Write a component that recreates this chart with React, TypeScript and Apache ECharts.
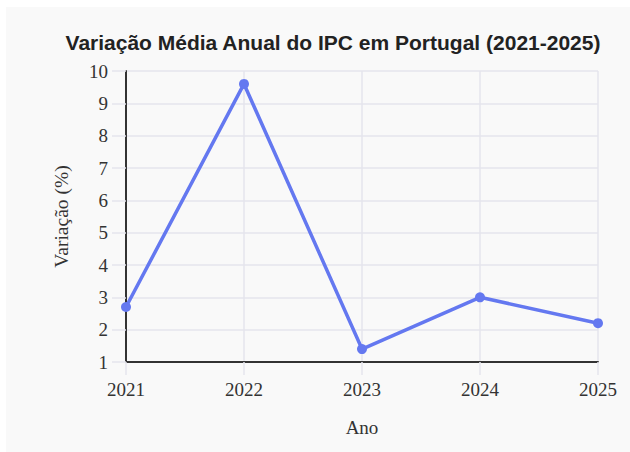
import React, { useEffect, useRef } from "react";
import * as echarts from "echarts";

const years = ["2021", "2022", "2023", "2024", "2025"];
const ipc = [2.7, 9.6, 1.4, 3.0, 2.2];
const titleText = "Variação Média Anual do IPC em Portugal (2021-2025)";

export default function App() {
  const ref = useRef<HTMLDivElement>(null);
  useEffect(() => {
    if (!ref.current) return;
    const chart = echarts.init(ref.current, undefined, { renderer: "svg" });
    const serif = "'Liberation Serif', 'Times New Roman', serif";
    chart.setOption({
      animation: false,
      backgroundColor: "#f9f9f9",
      graphic: [
        {
          type: "text",
          x: 327,
          y: 35,
          style: {
            text: titleText,
            fontFamily: "'Liberation Sans', Arial, sans-serif",
            fontWeight: "bold",
            fontSize: 21,
            fill: "#222",
            textAlign: "center",
            textVerticalAlign: "middle",
          },
        },
      ],
      grid: { left: 120, right: 32, top: 64, bottom: 90 },
      xAxis: {
        type: "category",
        data: years,
        boundaryGap: false,
        name: "Ano",
        nameLocation: "middle",
        nameGap: 56,
        nameTextStyle: { fontFamily: serif, fontSize: 19, color: "#333" },
        axisLine: { lineStyle: { color: "#333", width: 2 } },
        axisTick: { show: true, length: 13, lineStyle: { color: "#e4e4ec", width: 1.5 } },
        axisLabel: { fontFamily: serif, fontSize: 19, color: "#333", margin: 18 },
        splitLine: { show: true, lineStyle: { color: "#e4e4ec", width: 1.5 } },
      },
      yAxis: {
        type: "value",
        min: 1,
        max: 10,
        interval: 1,
        name: "Variação (%)",
        nameLocation: "middle",
        nameGap: 55,
        nameRotate: 90,
        nameTextStyle: { fontFamily: serif, fontSize: 19.5, color: "#333" },
        axisLine: { show: true, lineStyle: { color: "#333", width: 2 } },
        axisTick: { show: true, length: 14, lineStyle: { color: "#e4e4ec", width: 1.5 } },
        axisLabel: { fontFamily: serif, fontSize: 19, color: "#333", margin: 18 },
        splitLine: { show: true, lineStyle: { color: "#e4e4ec", width: 1.5 } },
      },
      series: [
        {
          type: "line",
          data: ipc,
          symbol: "circle",
          symbolSize: 10,
          lineStyle: { color: "#6478f0", width: 3.5 },
          itemStyle: { color: "#6478f0" },
        },
      ],
    });
    return () => chart.dispose();
  }, []);
  return (
    <div
      ref={ref}
      style={{ position: "absolute", left: 6, top: 7, width: 624, height: 445 }}
    />
  );
}
